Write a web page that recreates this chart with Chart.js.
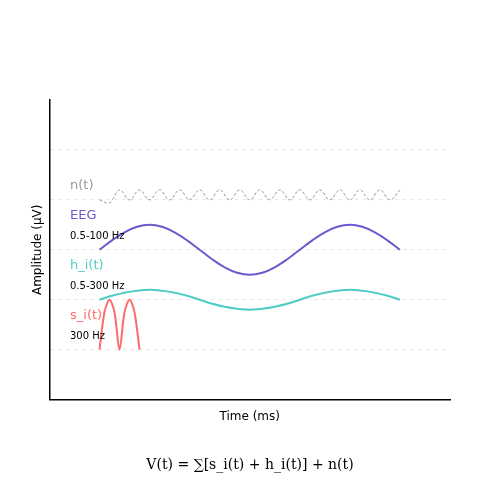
<!DOCTYPE html>
<html><head><script src="https://cdn.jsdelivr.net/npm/chart.js@4"></script>
<style>body{margin:0;background:#fff}#w{width:500px;height:500px}</style></head>
<body><div id="w"><canvas id="c"></canvas></div>
<script>
const eegX=[1,1.25,1.5,1.75,2,2.25,2.5,2.75,3,3.25,3.5,3.75,4,4.25,4.5,4.75,5,5.25,5.5,5.75,6,6.25,6.5,6.75,7];
const eegY=[3,3.19,3.35,3.46,3.5,3.46,3.35,3.19,3,2.81,2.65,2.54,2.5,2.54,2.65,2.81,3,3.19,3.35,3.46,3.5,3.46,3.35,3.19,3];
const hY=[2,2.08,2.14,2.18,2.2,2.18,2.14,2.08,2,1.92,1.86,1.82,1.8,1.82,1.86,1.92,2,2.08,2.14,2.18,2.2,2.18,2.14,2.08,2];
const nX=[1,1.2,1.4,1.6,1.8,2,2.2,2.4,2.6,2.8,3,3.2,3.4,3.6,3.8,4,4.2,4.4,4.6,4.8,5,5.2,5.4,5.6,5.8,6,6.2,6.4,6.6,6.8,7];
const nY=[4,3.94,4.2,4,4.2,4,4.2,4,4.2,4,4.2,4,4.2,4,4.2,4,4.2,4,4.2,4,4.2,4,4.2,4,4.2,4,4.2,4,4.2,4,4.2];
const sX=[1,1.1,1.2,1.3,1.4,1.5,1.6,1.7,1.8];
const sY=[1,1.75,2,1.75,1,1.75,2,1.75,1];
const labels=[["n(t)","#999",186,13],["EEG","#6a5acd",216,13],["0.5-100 Hz","#000",236,10],["h_i(t)","#4ecdc4",266,13],["0.5-300 Hz","#000",286,10],["s_i(t)","#ff6b6b",316,13],["300 Hz","#000",336,10]];
const pts=(xs,ys)=>xs.map((x,i)=>({x,y:ys[i]}));
new Chart(document.getElementById('c'),{type:'line',
data:{datasets:[
{data:pts(nX,nY),borderColor:'#999',borderWidth:1,borderDash:[3,2],tension:0.4,pointRadius:0},
{data:pts(eegX,eegY),borderColor:'#6a5acd',borderWidth:2,tension:0.4,pointRadius:0},
{data:pts(eegX,hY),borderColor:'#4ecdc4',borderWidth:2,tension:0.4,pointRadius:0},
{data:pts(sX,sY),borderColor:'#ff6b6b',borderWidth:2,tension:0.3,pointRadius:0}]},
options:{responsive:true,maintainAspectRatio:false,animation:false,
layout:{padding:{left:27,right:50,top:100,bottom:72}},
plugins:{legend:{display:false},tooltip:{enabled:false}},
scales:{x:{type:'linear',min:0,max:8,ticks:{display:false},grid:{display:false},border:{color:'#000',width:1.5},
title:{display:true,text:'Time (ms)',color:'#000',font:{family:'DejaVu Sans',size:12},padding:{top:2}}},
y:{min:0,max:6,ticks:{display:false,stepSize:1},border:{color:'#000',width:1.5,dash:[4,4]},
grid:{drawTicks:false,color:c=>(c.tick.value>0&&c.tick.value<6)?'#e8e8e8':'rgba(0,0,0,0)'},
title:{display:true,text:'Amplitude (μV)',color:'#000',font:{family:'DejaVu Sans',size:12}}}}},
plugins:[{id:'t',afterDraw(ch){const g=ch.ctx;g.save();g.textBaseline='middle';
labels.forEach(([t,c,y,s])=>{g.fillStyle=c;g.font=s+'px DejaVu Sans';g.fillText(t,70,y);});
g.fillStyle='#000';g.font='14px DejaVu Serif';g.textAlign='center';g.fillText('V(t) = ∑[s_i(t) + h_i(t)] + n(t)',250,465);g.restore();}}]
});
</script></body></html>
